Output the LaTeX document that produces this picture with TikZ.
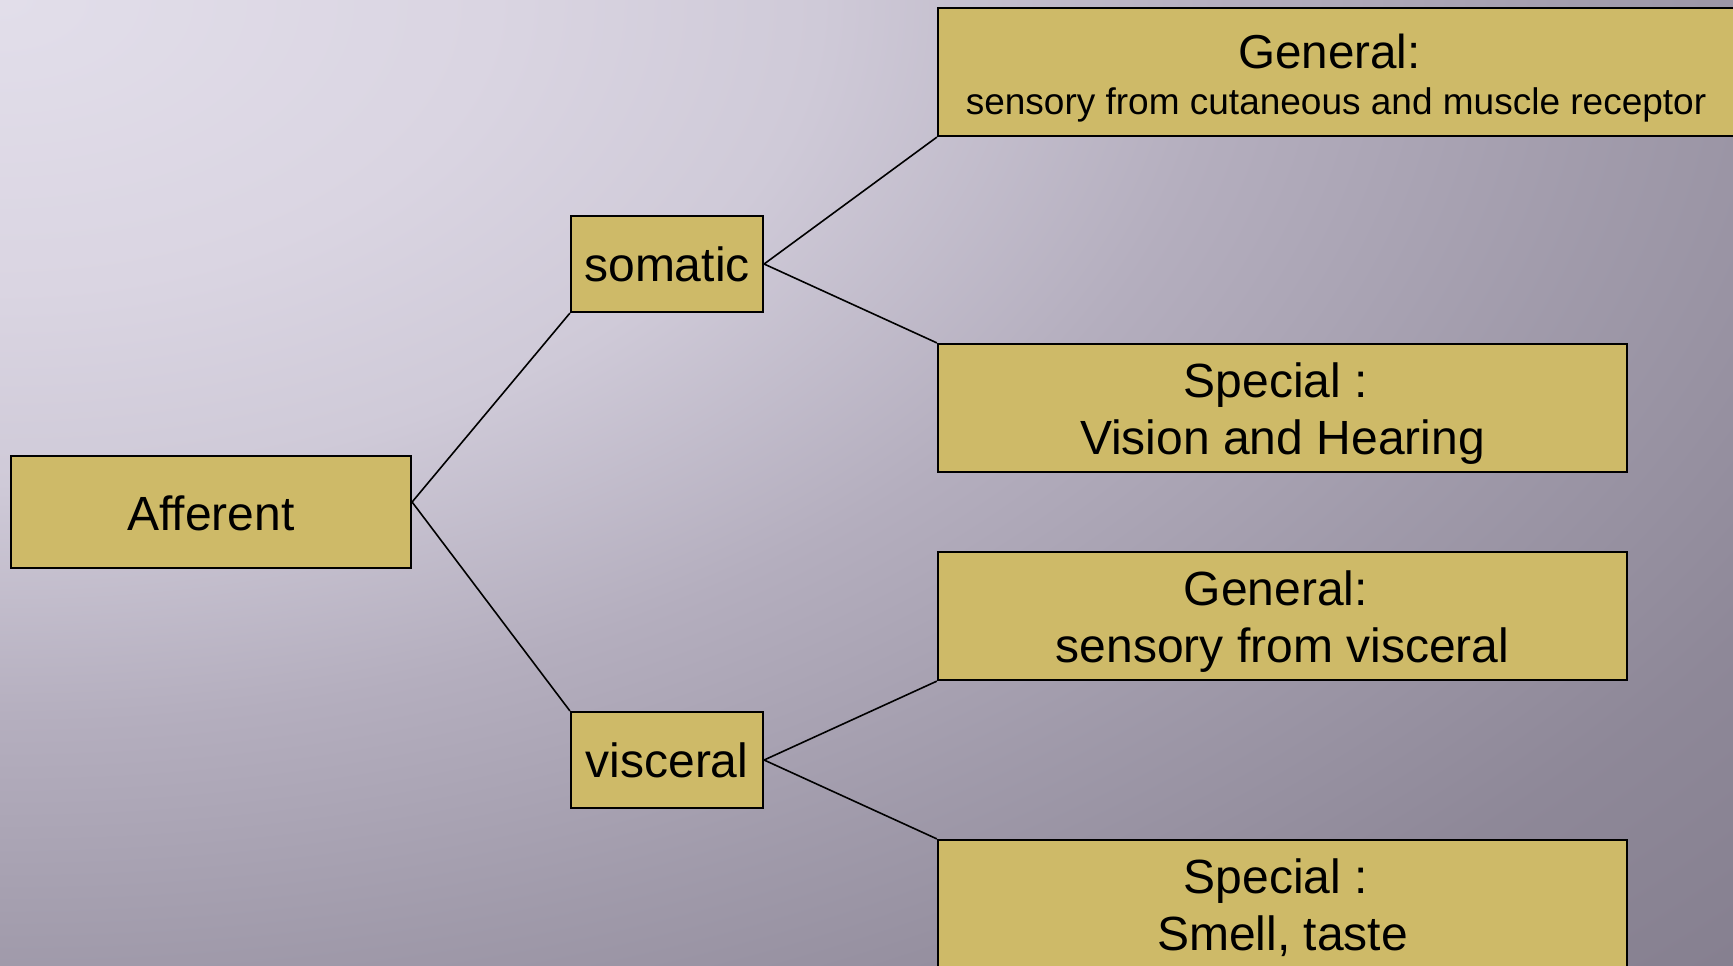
\documentclass[tikz,border=0pt]{standalone}
\usepackage{fontspec}
\setmainfont{Liberation Sans}

\definecolor{boxfill}{RGB}{206,186,104}

% soft backdrop, lightest in the upper left corner
% (stop s in bp stands for a normalised distance of s/33.3 from that corner)
\pgfdeclareradialshading{backdrop}{\pgfpoint{0bp}{0bp}}{%
  rgb(0bp)=(0.886,0.871,0.918);
  rgb(10bp)=(0.855,0.835,0.886);
  rgb(16.67bp)=(0.812,0.792,0.847);
  rgb(25bp)=(0.706,0.682,0.745);
  rgb(33.33bp)=(0.627,0.604,0.667);
  rgb(41.67bp)=(0.557,0.533,0.596);
  rgb(50bp)=(0.518,0.494,0.557)}

\begin{document}
\begin{tikzpicture}[x=0.5pt,y=-0.5pt,
  box/.style={draw=black, line width=1.1pt, fill=boxfill, inner sep=0pt,
    text depth=0pt, font=\fontsize{24}{28.5}\selectfont},
  link/.style={draw=black, line width=0.8pt}]
\useasboundingbox (0,0) rectangle (1733,965);
\begin{scope}
\clip (0,0) rectangle (1733,965);
\begin{pgfscope}
  \pgftransformxscale{24.5}
  \pgftransformyscale{14.43}
  \pgflowlevelsynccm
  \pgfuseshading{backdrop}
\end{pgfscope}

% root
\node[box, minimum width=200pt, minimum height=56pt, text height=18pt]
  (aff) at (211,512) {Afferent};

% second level
\node[box, minimum width=96pt, minimum height=48pt, text height=17pt]
  (som) at (667,264) {somatic};
\node[box, minimum width=96pt, minimum height=48pt, text height=17.5pt]
  (vis) at (667,760) {visceral};

% leaves
\node[box, minimum width=398pt, minimum height=64pt, text height=42pt,
  font=\fontsize{18.5}{23}\selectfont]
  (gen1) at (1336,72)
  {\begin{tabular}[b]{@{}c@{}}{\fontsize{23.8}{28.5}\selectfont General:\kern.278em}\\
   sensory from cutaneous and muscle receptor\end{tabular}};
\node[box, minimum width=344.5pt, minimum height=64pt, text height=46.5pt]
  (spec1) at (1282.5,408)
  {\begin{tabular}[b]{@{}c@{}}Special :\kern.278em\\ Vision and Hearing\end{tabular}};
\node[box, minimum width=344.5pt, minimum height=64pt, text height=46.5pt]
  (gen2) at (1282.5,616)
  {\begin{tabular}[b]{@{}c@{}}General:\kern.278em\\ sensory from visceral\end{tabular}};
\node[box, minimum width=344.5pt, minimum height=64pt, text height=46.5pt]
  (spec2) at (1282.5,904)
  {\begin{tabular}[b]{@{}c@{}}Special :\kern.278em\\ Smell, taste\end{tabular}};

% tree connectors
\draw[link] (som.south west) -- ([yshift=5pt]aff.east) -- (vis.north west);
\draw[link] (gen1.south west) -- (som.east) -- (spec1.north west);
\draw[link] (gen2.south west) -- (vis.east) -- (spec2.north west);
\end{scope}
\end{tikzpicture}
\end{document}
